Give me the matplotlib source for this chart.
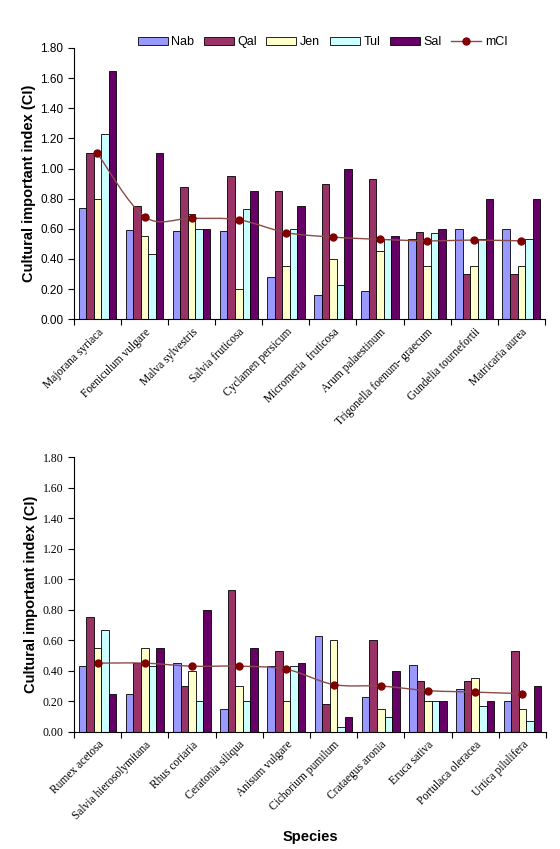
import numpy as np
import matplotlib

matplotlib.use("Agg")

import matplotlib.pyplot as plt
from matplotlib.path import Path
from matplotlib.patches import PathPatch
from matplotlib.lines import Line2D

sites = ["Nab", "Qal", "Jen", "Tul", "Sal"]
site_colors = ["#9999FF", "#993366", "#FFFFCC", "#CCFFFF", "#660066"]

species_top = [
    "Majorana syriaca", "Foeniculum vulgare", "Malva sylvestris", "Salvia fruticosa",
    "Cyclamen persicum", "Micromeria  fruticosa", "Arum palaestinum",
    "Trigonella foenum- graecum", "Gundelia tournefortii", "Matricaria aurea",
]
nab_top = [0.74, 0.59, 0.585, 0.585, 0.28, 0.16, 0.19, 0.53, 0.60, 0.60]
qal_top = [1.10, 0.75, 0.88, 0.95, 0.85, 0.90, 0.93, 0.58, 0.30, 0.30]
jen_top = [0.80, 0.55, 0.70, 0.20, 0.35, 0.40, 0.45, 0.35, 0.35, 0.35]
tul_top = [1.23, 0.43, 0.60, 0.73, 0.60, 0.23, 0.53, 0.57, 0.53, 0.53]
sal_top = [1.65, 1.10, 0.60, 0.85, 0.75, 1.00, 0.55, 0.60, 0.80, 0.80]
mci_top = [1.10, 0.68, 0.67, 0.66, 0.575, 0.545, 0.53, 0.52, 0.525, 0.52]

species_bottom = [
    "Rumex acetosa", "Salvia hierosolymitana", "Rhus coriaria", "Ceratonia siliqua",
    "Anisum vulgare", "Cichorium pumilum", "Crataegus aronia", "Eruca sativa",
    "Portulaca oleracea", "Urtica pilulifera",
]
nab_bottom = [0.43, 0.25, 0.45, 0.15, 0.43, 0.63, 0.23, 0.44, 0.28, 0.20]
qal_bottom = [0.75, 0.45, 0.30, 0.93, 0.53, 0.18, 0.60, 0.33, 0.33, 0.53]
jen_bottom = [0.55, 0.55, 0.40, 0.30, 0.20, 0.60, 0.15, 0.20, 0.35, 0.15]
tul_bottom = [0.67, 0.43, 0.20, 0.20, 0.43, 0.03, 0.10, 0.20, 0.17, 0.07]
sal_bottom = [0.25, 0.55, 0.80, 0.55, 0.45, 0.10, 0.40, 0.20, 0.20, 0.30]
mci_bottom = [0.45, 0.45, 0.43, 0.43, 0.41, 0.31, 0.30, 0.27, 0.26, 0.25]

yticks = [0.0, 0.2, 0.4, 0.6, 0.8, 1.0, 1.2, 1.4, 1.6, 1.8]

SANS = "Liberation Sans"
SERIF = "Liberation Serif"


def smooth_path(x, y):
    # Catmull-Rom style bezier through the points, like Excel's smoothed line
    x = np.asarray(x, float)
    y = np.asarray(y, float)
    n = len(x)
    verts = [(x[0], y[0])]
    codes = [Path.MOVETO]
    for i in range(n - 1):
        p0 = (x[max(i - 1, 0)], y[max(i - 1, 0)])
        p1 = (x[i], y[i])
        p2 = (x[i + 1], y[i + 1])
        p3 = (x[min(i + 2, n - 1)], y[min(i + 2, n - 1)])
        c1 = (p1[0] + (p2[0] - p0[0]) / 6, p1[1] + (p2[1] - p0[1]) / 6)
        c2 = (p2[0] - (p3[0] - p1[0]) / 6, p2[1] - (p3[1] - p1[1]) / 6)
        verts += [c1, c2, p2]
        codes += [Path.CURVE4] * 3
    return Path(verts, codes)


def draw_panel(ax, species, series, mci, tick_family):
    x = np.arange(len(species))
    width = 0.16
    for k, (vals, color) in enumerate(zip(series, site_colors)):
        ax.bar(x + (k - 2) * width, vals, width, color=color,
               edgecolor="black", linewidth=0.6, zorder=2)
    ax.add_patch(PathPatch(smooth_path(x, mci), facecolor="none",
                           edgecolor="#8B4A4A", linewidth=1.0, zorder=3))
    ax.plot(x, mci, linestyle="none", marker="o", markersize=5,
            color="#800000", zorder=4)

    ax.set_xlim(-0.5, len(species) - 0.5)
    ax.set_ylim(0, 1.8)
    ax.set_yticks(yticks)
    ax.set_yticklabels([f"{v:.2f}" for v in yticks], family=tick_family, fontsize=8.5)
    ax.set_xticks(np.arange(len(species) + 1) - 0.5)
    ax.set_xticklabels([])
    ax.set_xticks(x, minor=True)
    ax.set_xticklabels(species, minor=True, rotation=45, ha="right",
                       rotation_mode="anchor", family=SERIF, fontsize=8.3)
    ax.tick_params(axis="x", which="minor", length=0, pad=5)
    ax.tick_params(axis="x", which="major", length=4, direction="out")
    ax.tick_params(axis="y", length=4, direction="out")
    for side in ["top", "right"]:
        ax.spines[side].set_visible(False)
    ax.spines["left"].set_linewidth(0.8)
    ax.spines["bottom"].set_linewidth(0.8)
    ax.set_ylabel("Cultural important index (CI)", family=SANS,
                  fontweight="bold", fontsize=10.5, labelpad=3)


fig = plt.figure(figsize=(5.6, 8.49), dpi=100)

ax_top = fig.add_axes([0.132, 0.624, 0.841, 0.3195])
ax_bot = fig.add_axes([0.132, 0.138, 0.843, 0.3237])

draw_panel(ax_top, species_top,
           [nab_top, qal_top, jen_top, tul_top, sal_top], mci_top, SANS)
draw_panel(ax_bot, species_bottom,
           [nab_bottom, qal_bottom, jen_bottom, tul_bottom, sal_bottom], mci_bottom, SERIF)

ax_bot.set_xlabel("Species", family=SANS, fontweight="bold", fontsize=10.5, labelpad=6)

handles = [plt.Rectangle((0, 0), 1, 1, facecolor=c, edgecolor="black", linewidth=0.6)
           for c in site_colors]
handles.append(Line2D([0], [0], color="#8B4A4A", marker="o", markersize=5,
                      markerfacecolor="#800000", markeredgecolor="#800000", linewidth=1.0))
fig.legend(handles, sites + ["mCI"], loc="center", bbox_to_anchor=(0.576, 0.950),
           ncol=6, frameon=False, prop={"family": SANS, "size": 9},
           handlelength=2.4, handleheight=0.55, columnspacing=0.75, handletextpad=0.3)

fig.savefig("out.png", dpi=100)
